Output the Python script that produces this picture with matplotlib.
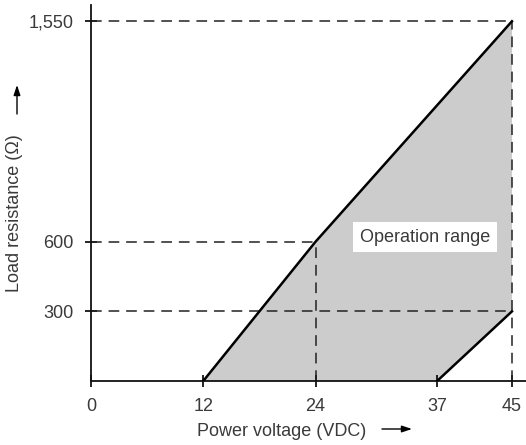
import matplotlib as mpl
import matplotlib.pyplot as plt

mpl.rcParams['font.family'] = ['Liberation Sans', 'DejaVu Sans']
mpl.rcParams['axes.spines.right'] = False
mpl.rcParams['axes.spines.top'] = False

# Operating window corners (voltage, resistance)
volt_upper = [12, 24, 45]
ohm_upper = [0, 600, 1550]
volt_lower = [37, 45]
ohm_lower = [0, 300]

x_ticks = [0, 12, 24, 37, 45]
y_ticks = [300, 600, 1550]
y_tick_labels = ['300', '600', '1,550']

text_col = '#3a3a3a'
dash = (0, (7, 4.5))
W, H = 526, 445

fig = plt.figure(figsize=(5.26, 4.45), dpi=100)
ax = fig.add_axes([91 / W, 64 / H, 435 / W, 376 / H])

# shaded region
poly_x = volt_upper + volt_lower[::-1]
poly_y = ohm_upper + ohm_lower[::-1]
ax.fill(poly_x, poly_y, color='#cccccc', lw=0, zorder=1)

# reference dashed lines
ax.plot([0, 45], [1550, 1550], color='#222222', lw=1.1, ls=dash, zorder=2)
ax.plot([0, 45], [300, 300], color='#222222', lw=1.1, ls=dash, zorder=2)
ax.plot([0, 24], [600, 600], color='#222222', lw=1.1, ls=dash, zorder=2)
ax.plot([24, 24], [0, 600], color='#222222', lw=1.1, ls=dash, zorder=2)
ax.plot([45, 45], [0, 1550], color='#222222', lw=1.1, ls=dash, zorder=2)

# boundaries
ax.plot(volt_upper, ohm_upper, color='black', lw=1.8, zorder=3)
ax.plot(volt_lower, ohm_lower, color='black', lw=1.8, zorder=3)

ax.text(28.75, 620, 'Operation range', fontsize=13, color=text_col,
        ha='left', va='center', zorder=4,
        bbox=dict(facecolor='white', edgecolor='none', pad=5))

ax.set_xlim(0, 46.5)
ax.set_ylim(0, 1620)
ax.set_xticks(x_ticks)
ax.set_yticks(y_ticks)
ax.set_yticklabels(y_tick_labels)
ax.tick_params(direction='inout', length=9, width=1.2, labelsize=13,
               labelcolor=text_col)
ax.tick_params(axis='x', pad=8)
ax.tick_params(axis='y', pad=8)
for s in ['left', 'bottom']:
    ax.spines[s].set_linewidth(1.3)
    ax.spines[s].set_color('#111111')

fig.text(282 / W, 1 - 432 / H, 'Power voltage (VDC)', fontsize=13,
         color=text_col, ha='center', va='center')
fig.text(15 / W, 1 - 213 / H, 'Load resistance (\u03a9)', fontsize=13,
         color=text_col, ha='center', va='center', rotation=90)

arrow = dict(arrowstyle='-|>,head_length=0.6,head_width=0.2', color='black',
             lw=1, shrinkA=0, shrinkB=0)
ax.annotate('', xy=(412 / W, 1 - 429 / H), xytext=(382 / W, 1 - 429 / H),
            xycoords='figure fraction', arrowprops=arrow)
ax.annotate('', xy=(17 / W, 1 - 85 / H), xytext=(17 / W, 1 - 114 / H),
            xycoords='figure fraction', arrowprops=arrow)

plt.savefig('out.png', dpi=100)
